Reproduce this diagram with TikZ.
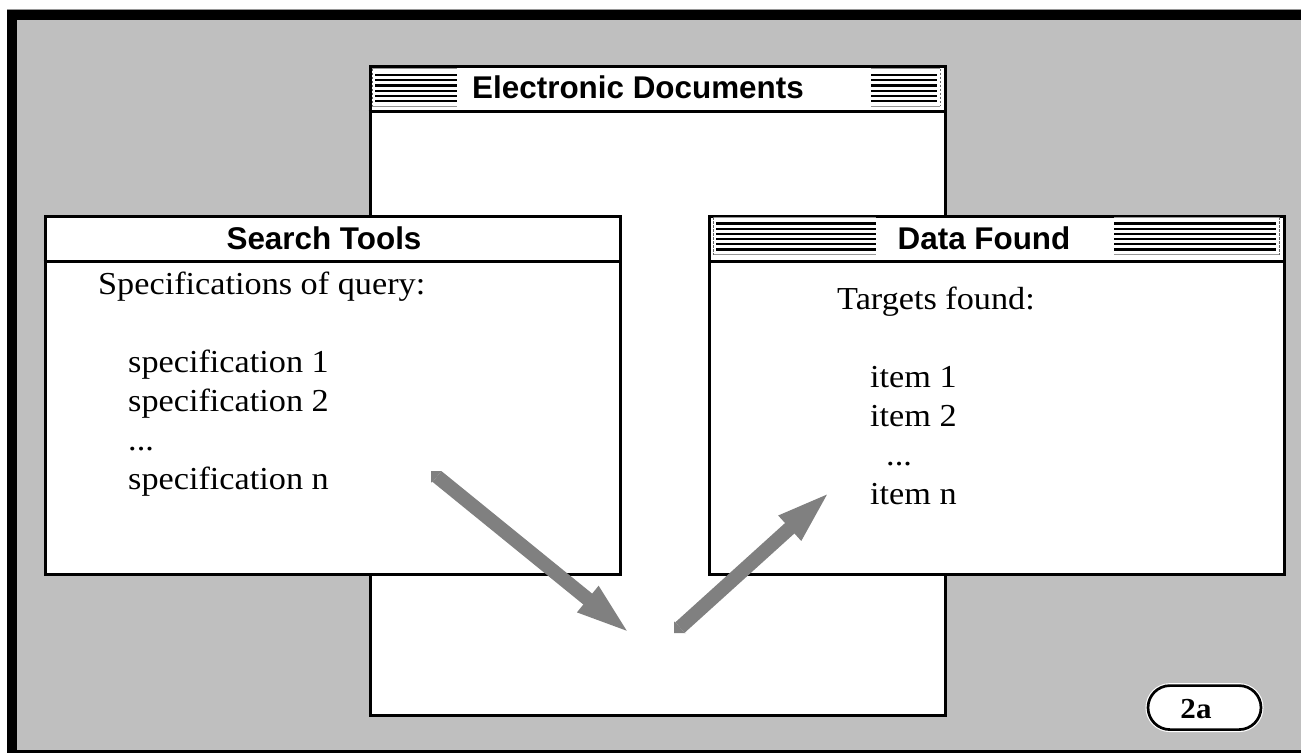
\documentclass[tikz,border=0pt]{standalone}
\usepackage{fontspec}
\setsansfont{Liberation Sans}
\newfontfamily\palfont[FakeStretch=1.07]{Liberation Serif}
\usetikzlibrary{arrows.meta}

\definecolor{panelgray}{RGB}{191,191,191}
\definecolor{arrowgray}{RGB}{128,128,128}
\definecolor{rulegray}{RGB}{150,150,150}

\tikzset{
  win/.style={draw=black, line width=3pt, fill=white, inner sep=0pt, rectangle, anchor=north west},
  barline/.style={line width=3pt},
  wintitle/.style={inner sep=0pt, font=\sffamily\bfseries\fontsize{31.4}{36}\selectfont},
  body/.style={inner sep=0pt, anchor=base west, font=\palfont\fontsize{32}{39}\selectfont},
  blockarrow/.style={draw=arrowgray, line width=14pt, line cap=butt,
    -{Triangle[length=57pt, width=29pt]}},
  tag/.style={draw=black, line width=2.7pt, fill=white, rectangle, rounded corners=22pt,
    minimum width=113pt, minimum height=44pt, inner sep=0pt,
    preaction={draw=white, line width=5pt}},
}

% striped title-bar ornament: #1 left x, #2 right x, #3 window top y, #4 x of the dotted side, #5 stripe start x
\newcommand\stripegroup[5]{%
  \draw[rulegray, line width=0.8pt] (#1,#3+4) -- (#2,#3+4) (#1,#3+41.5) -- (#2,#3+41.5);
  \draw[black!60, line width=0.8pt, dash pattern=on 2.5pt off 1.5pt] (#4,#3+4) -- (#4,#3+41.5);
  \foreach \k in {0,...,5}
    \draw[line width=2.2pt] (#5,#3+10.5+5.2*\k) -- (#5+#2-#1-3,#3+10.5+5.2*\k);
}

\begin{document}
\begin{tikzpicture}[x=1pt, y=-1pt]
\useasboundingbox (0,0) rectangle (1301,753);

% frame
\fill[white] (0,0) rectangle (1301,753);
\fill[panelgray] (17,20) rectangle (1301,750);
\fill[black] (7,10) rectangle (1301,20);
\fill[black] (7,10) rectangle (17,753);
\fill[black] (7,750) rectangle (1301,753);
\draw[rulegray, line width=1pt] (7,9.5) -- (1301,9.5);

% Electronic Documents window
\node[win, minimum width=575pt, minimum height=649.5pt] (ed) at (368.5,64.5) {};
\draw[barline] ([yshift=-46.5pt]ed.north west) -- ([yshift=-46.5pt]ed.north east);
\stripegroup{372}{457}{64.5}{372}{375}
\stripegroup{871}{940}{64.5}{940}{871}
\node[wintitle] (edtitle) at (638,87.5) {Electronic Documents};

% Search Tools window
\node[win, minimum width=575pt, minimum height=358.5pt] (st) at (43.5,214.5) {};
\draw[barline] ([yshift=-47.2pt]st.north west) -- ([yshift=-47.2pt]st.north east);
\node[wintitle] (sttitle) at (324,238) {Search Tools};
\node[body] (q0) at (98,294) {Specifications of query:};
\node[body] (q1) at (128,372) {specification 1};
\node[body] (q2) at (128,411) {specification 2};
\node[body] (q3) at (128,450) {...};
\node[body] (q4) at (128,489) {specification n};

% Data Found window
\node[win, minimum width=575pt, minimum height=358.5pt] (df) at (708,214.5) {};
\draw[barline] ([yshift=-47.2pt]df.north west) -- ([yshift=-47.2pt]df.north east);
\stripegroup{713}{876}{213}{713}{716}
\stripegroup{1114}{1279}{213}{1279}{1114}
\node[wintitle] (dftitle) at (984,238) {Data Found};
\node[body] (t0) at (837,309) {Targets found:};
\node[body] (t1) at (870,387) {item 1};
\node[body] (t2) at (870,426) {item 2};
\node[body] (t3) at (886,465) {...};
\node[body] (t4) at (870,504) {item n};

% arrows into and out of the document store
\coordinate (a1s) at (437,476.5);
\coordinate (a1e) at (632,635);
\coordinate (a2s) at (680,627.5);
\coordinate (a2e) at (832,490);
\draw[blockarrow] (a1s) -- (a1e);
\draw[blockarrow] (a2s) -- (a2e);
% square-cornered tails
\fill[arrowgray] (441.4,471.1) -- (431,471) -- (431,482.5) -- (432.6,481.9) -- cycle;
\fill[arrowgray] (675.3,622.3) -- (674,621.5) -- (674,633) -- (686,633) -- (684.7,632.7) -- cycle;

% figure tag
\node[tag] (tagbox) at (1204.5,707.6) {};
\node[inner sep=0pt, font=\palfont\bfseries\fontsize{29}{34}\selectfont] (taglabel) at (1196,709) {2a};
\end{tikzpicture}
\end{document}
